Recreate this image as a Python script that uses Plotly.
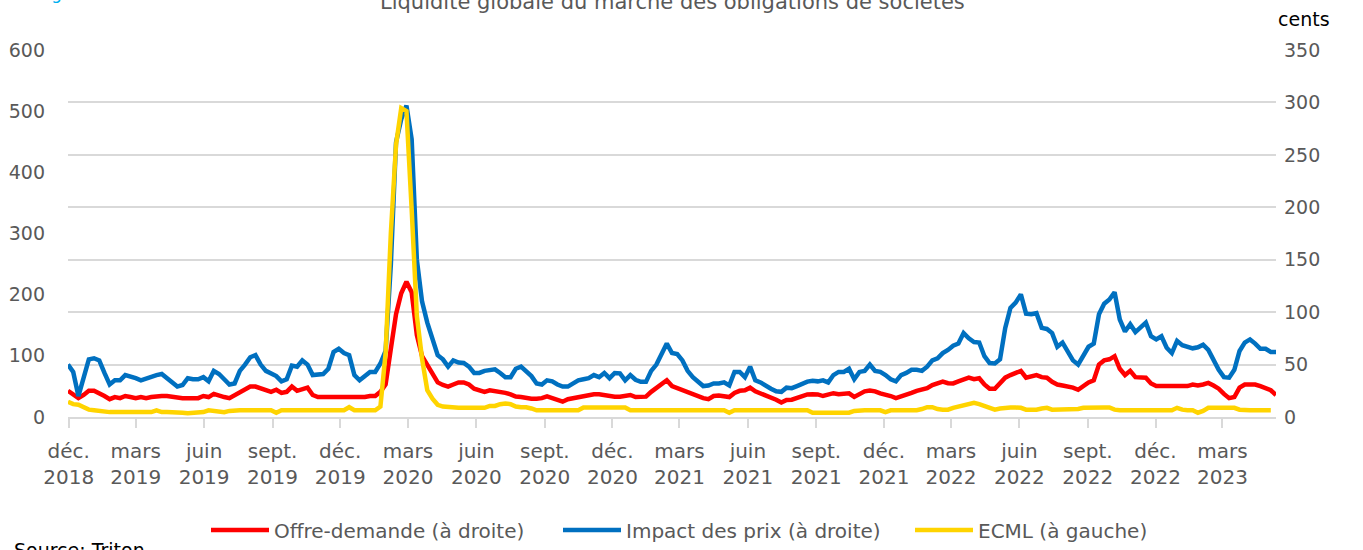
import pandas as pd
import plotly.graph_objects as go

# Weekly observations (Fridays), from 30 Nov 2018
start_date = "2018-11-30"
n_weeks = 233

offre_demande = [
    25, 22, 18, 21, 25, 25, 23, 20, 17, 19, 18, 20, 19, 18, 19, 18, 19, 20, 20, 20,
    19, 18, 18, 18, 18, 18, 20, 19, 22, 20, 19, 18, 21, 24,
    27, 29, 29, 27, 25, 24, 26, 23, 24, 29, 25, 27, 28, 21, 19, 19, 19, 19, 19, 18,
    18, 19, 18, 19, 20, 20, 24, 31,
    65, 98, 118, 129, 119, 78, 58, 50, 40, 33, 30.5, 29, 31, 33, 33, 31, 27, 25, 24,
    25.5, 25, 24, 23, 21.6, 19.5, 19, 18, 17.5, 17.5, 18, 19.7, 18, 16, 14.6, 17, 18, 18.8,
    19.5, 20.5, 21.6, 21.6, 20.5, 19.5, 19.4, 19.4, 19.8, 21, 19, 19.2, 19.4, 24, 27.5,
    30.5, 35, 29.5, 27.5, 26, 24, 22.5, 20, 18, 17, 20, 20.5, 19.5, 19, 23, 25, 25.5, 28,
    24.5, 22.5, 20.5, 19, 16.5, 13.8, 16.3, 16.5, 18, 19.5, 21.5, 21.6, 21.5, 20, 21,
    22.7, 21.8, 22.5, 22.6, 19.2, 21.6, 24.5, 25.3, 24.5, 22.5, 21.5, 20, 18, 19.4, 21,
    23, 25, 26,
    27.5, 30.5, 32, 33.8, 32.2, 32, 34, 36.3, 37.5, 36, 37, 31, 27, 27, 32, 37.5, 40,
    42, 44, 37.5, 38.5, 40, 38, 37.5, 33.5, 31, 30, 29.5, 28, 26, 30, 33,
    35, 50, 54, 55, 58, 46, 40, 44, 38, 37.5, 37.5, 32, 29.5, 29.5, 29.5, 29.5, 29.5,
    29.5, 29.5, 31, 30, 31, 32.5, 30, 27, 22, 18, 19, 28, 31, 31.5, 31, 29.5, 27.5, 25.5, 21,
]

impact_prix = [
    50, 43, 20, 38, 55, 56, 54, 42, 31, 35, 35, 40, 39, 37, 35, 37, 38, 40, 41, 37,
    33, 29, 30.5, 37, 36, 36, 38, 34, 44, 41, 36, 31, 32, 44,
    50, 57, 59, 50, 44, 42, 39, 34, 36, 49, 48, 54, 50, 40, 41, 41, 46, 62, 65, 61,
    59, 40, 35, 39, 43, 43, 51, 63,
    145, 262, 284, 297, 265, 150, 110, 90, 75, 59, 55, 48, 54, 52, 51.5, 48, 42, 42,
    44, 45, 45.5, 42, 38, 38, 46, 48, 44, 39, 32, 31, 35, 34, 31, 29, 29, 32, 35,
    36, 37, 40, 38, 42, 37, 42, 41.6, 35, 40, 35.5, 33.5, 33.5, 44, 50, 60, 70, 61, 60,
    54, 44, 38, 33, 29.5, 30, 32, 32, 33, 30, 43, 43, 38, 48,
    35, 33, 29.5, 27, 24.5, 24, 28, 27.5, 29.5, 32, 33.7, 34.6, 34, 35, 33, 40, 43, 43,
    46, 36, 43, 44, 50, 44, 43, 40, 36, 34, 40, 42, 45, 45, 44,
    48, 54, 56, 61, 64, 68, 70, 80, 75, 71.5, 71, 58, 51.5, 51, 55, 85, 104, 109, 117,
    98.6, 98, 99, 85, 84, 80, 67, 71, 63, 54, 50, 58, 67,
    70, 98, 108, 112, 119, 93, 81.5, 88.5, 81, 85, 90, 77, 74, 77, 66, 61, 72.5, 68.5,
    67, 65.5, 66.5, 69, 64, 54, 45, 38, 37.5, 45, 63, 71, 74, 70, 65, 65, 62, 62,
]

ecml = [
    25, 21, 20, 15, 12, 11, 10, 8, 8, 8, 8, 8, 8, 8, 8, 8, 8, 11, 8, 8, 8, 7, 7, 6,
    7, 7, 8, 11, 10, 8, 8, 10, 11, 11,
    11, 11, 11, 11, 11, 11, 7, 11, 11, 11, 11, 11, 11, 11, 11, 11, 11, 11, 11, 11,
    16, 11, 11, 11, 11, 11, 17,
    105, 300, 445, 505, 500, 340, 165, 95, 44, 30, 20, 17, 16, 15, 15, 15, 15, 15, 15,
    15, 18, 18, 21, 22, 21, 17, 16, 16, 14, 11, 11, 11, 11, 11, 11, 11, 11,
    11, 15.5, 15.5, 15.5, 15.5, 15.5, 15.5, 15.5, 15.5, 15.5, 11, 11, 11, 11, 11, 11,
    11, 11, 11, 11, 11, 11, 11, 11, 11, 11, 11, 11, 11, 7, 11, 11, 11,
    11, 11, 11, 11, 11, 11, 11, 11, 11, 11, 11, 11, 7, 7, 7, 7, 7, 7, 7, 7, 10, 11, 11,
    11, 11, 11, 8, 11, 11, 11, 11, 11, 11,
    13, 16, 16, 13, 12, 12, 15, 17, 19, 20, 23, 21, 18, 15, 12, 14, 15.5, 15.5, 15.5,
    15, 12, 12, 12, 14, 15, 12, 12, 12, 12, 12, 13, 15,
    15.5, 15.5, 15.5, 15.5, 15.5, 12, 11, 11, 11, 11, 11, 11, 11, 11, 11, 11, 11, 15,
    12, 11, 11, 7, 10, 15, 15, 15, 15, 15, 15, 12, 11, 11, 11, 11, 11, 11,
]

tick_dates = ["2018-12-01", "2019-03-01", "2019-06-01", "2019-09-01", "2019-12-01",
              "2020-03-01", "2020-06-01", "2020-09-01", "2020-12-01", "2021-03-01",
              "2021-06-01", "2021-09-01", "2021-12-01", "2022-03-01", "2022-06-01",
              "2022-09-01", "2022-12-01", "2023-03-01"]
tick_labels = ["déc.<br>2018", "mars<br>2019", "juin<br>2019", "sept.<br>2019",
               "déc.<br>2019", "mars<br>2020", "juin<br>2020", "sept.<br>2020",
               "déc.<br>2020", "mars<br>2021", "juin<br>2021", "sept.<br>2021",
               "déc.<br>2021", "mars<br>2022", "juin<br>2022", "sept.<br>2022",
               "déc.<br>2022", "mars<br>2023"]

dates = pd.date_range(start_date, periods=n_weeks, freq="7D")

FONT = "DejaVu Sans, sans-serif"
GREY = "#595959"
GRID = "#d9d9d9"

# y  = right-hand axis (cents, 0-350, with gridlines)
# y2 = left-hand axis (ECML, 0-600), overlaying so the yellow line is drawn on top
fig = go.Figure()
fig.add_trace(go.Scatter(x=dates, y=offre_demande, name="Offre-demande (à droite)",
                         mode="lines", line=dict(color="#FF0000", width=4.5), yaxis="y",
                         legend="legend"))
fig.add_trace(go.Scatter(x=dates, y=impact_prix, name="Impact des prix (à droite)",
                         mode="lines", line=dict(color="#0070C0", width=4.5), yaxis="y",
                         legend="legend2"))
fig.add_trace(go.Scatter(x=dates, y=ecml, name="ECML (à gauche)",
                         mode="lines", line=dict(color="#FFD400", width=4.5), yaxis="y2",
                         legend="legend3"))

W, H = 1363, 550
ml, mr, mt, mb = 68, 87, 50, 133
plot_h = H - mt - mb
plot_w = W - ml - mr


def py(pix):
    return (H - mb - pix) / plot_h


def px(pix):
    return (pix - ml) / plot_w


def leg(xpix):
    return dict(orientation="h", x=px(xpix), xanchor="left", y=py(530), yanchor="middle",
                font=dict(size=20, color=GREY, family=FONT), itemwidth=58,
                bgcolor="rgba(0,0,0,0)")


fig.update_layout(
    width=W, height=H,
    margin=dict(l=ml, r=mr, t=mt, b=mb, autoexpand=False),
    paper_bgcolor="white", plot_bgcolor="white",
    font=dict(family=FONT, color=GREY, size=19),
    showlegend=True,
    legend=leg(206), legend2=leg(558), legend3=leg(910),
    xaxis=dict(type="date", range=[dates[0], dates[-1]], tickvals=tick_dates,
               ticktext=tick_labels, showgrid=False, ticks="outside", ticklen=9,
               tickcolor=GRID, tickwidth=1.5, showline=True, linecolor=GRID, linewidth=1.5,
               tickfont=dict(size=20, color=GREY), zeroline=False, ticklabelstandoff=6),
    yaxis=dict(range=[0, 350], dtick=50, side="right", showgrid=True,
               gridcolor=GRID, gridwidth=1.5, zeroline=False,
               tickfont=dict(size=19, color=GREY), ticklabelstandoff=7),
    yaxis2=dict(range=[0, 600], dtick=100, overlaying="y", side="left", showgrid=False,
                zeroline=False, tickfont=dict(size=19, color=GREY), ticklabelstandoff=22),
)

fig.add_annotation(text="Liquidité globale du marché des obligations de sociétés",
                   xref="paper", yref="paper", x=px(672), y=py(2), xanchor="center",
                   yanchor="middle", showarrow=False, font=dict(size=21, color=GREY))
fig.add_annotation(text="Figure", xref="paper", yref="paper", x=px(36), y=py(5),
                   xanchor="left", yanchor="bottom", showarrow=False,
                   font=dict(size=17, color="#00B0F0"))
fig.add_annotation(text="cents", xref="paper", yref="paper", x=px(1276), y=py(19),
                   xanchor="left", yanchor="middle", showarrow=False,
                   font=dict(size=19, color="#000000"))
fig.add_annotation(text="Source: Triton", xref="paper", yref="paper", x=px(12), y=py(537),
                   xanchor="left", yanchor="top", showarrow=False,
                   font=dict(size=19, color="#000000"))

fig.write_html("out.html", config={"displayModeBar": False},
               post_script="document.body.style.margin='0';")
